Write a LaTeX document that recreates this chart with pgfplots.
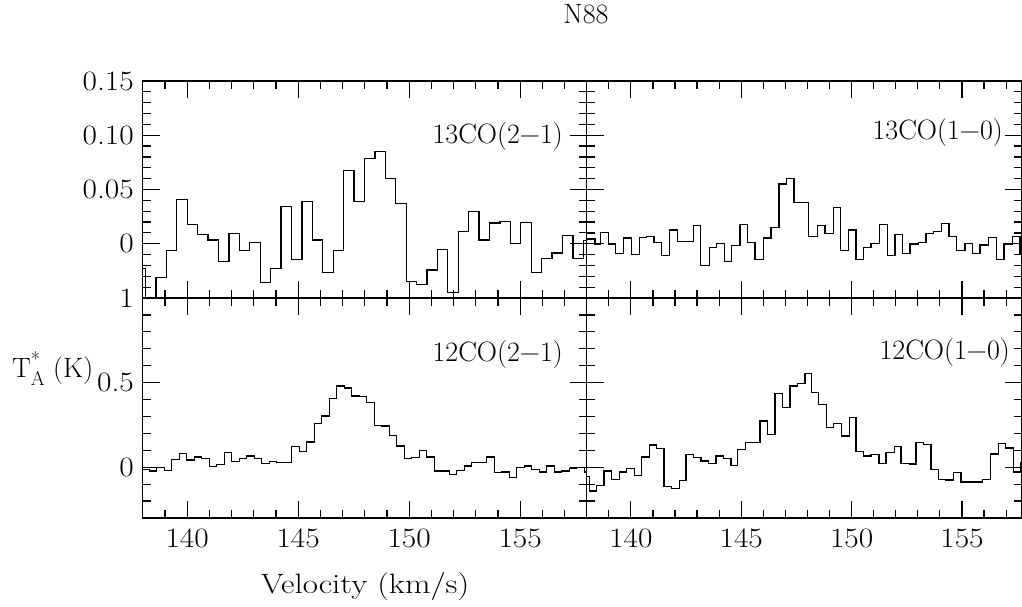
\documentclass[border=0pt]{standalone}
\usepackage{fontspec}
\usepackage{pgfplots}
\pgfplotsset{compat=1.18}

\newcommand{\bigf}{\fontsize{28}{32}\selectfont}

\pgfplotsset{
  panel/.style={
    scale only axis,
    xmin=138,
    tick align=inside,
    major tick length=17pt,
    minor tick length=8pt,
    xtick={140,145,150,155},
    minor xtick={138,139,...,158},
    axis line style={line width=1.4pt},
    every tick/.style={line width=1.2pt, black},
    tick label style={font=\bigf},
    /pgf/number format/assume math mode=true,
    xticklabel style={yshift=-7pt, xscale=1.12, transform shape},
    yticklabel style={xshift=-5pt, xscale=1.12, transform shape},
    clip=true,
  },
  spec/.style={const plot mark left, black, line width=1.3pt, mark=none},
  toppanel/.style={ymin=-0.05, ymax=0.15, height=217pt,
    ytick={0,0.05,0.1,0.15}, minor ytick={-0.05,-0.04,...,0.151}},
  botpanel/.style={ymin=-0.3, ymax=1.0, height=220pt,
    ytick={0,0.5,1}, minor ytick={-0.3,-0.2,...,1.01}},
}

\begin{document}
\begin{tikzpicture}
\path[use as bounding box] (0,0) rectangle (1022pt,606pt);

% ---------- 13CO(2-1) ----------
\begin{axis}[panel, toppanel, at={(142.7pt,308pt)}, anchor=south west,
  width=444pt, xmax=158,
  yticklabels={0,0.05,0.10,0.15}, xticklabels={}]
\addplot[spec] coordinates {
(137.660,-0.023) (138.130,-0.060) (138.599,-0.031) (139.069,-0.006)
(139.538,0.041) (140.008,0.0176) (140.477,0.0083) (140.947,0.0034)
(141.416,-0.0164) (141.886,0.0096) (142.355,-0.0065) (142.825,0.0012)
(143.294,-0.0358) (143.764,-0.0228) (144.233,0.0343) (144.703,-0.0142)
(145.172,0.0392) (145.642,0.0034) (146.111,-0.0265) (146.581,-0.0059)
(147.050,0.0676) (147.520,0.0389) (147.989,0.0784) (148.459,0.0852)
(148.928,0.0599) (149.398,0.0373) (149.867,-0.0349) (150.337,-0.0373)
(150.806,-0.0241) (151.276,-0.0056) (151.745,-0.0451) (152.215,0.0111)
(152.684,0.0296) (153.154,0.0034) (153.623,0.0191) (154.093,0.0204)
(154.562,0.0003) (155.032,0.0197) (155.501,-0.0265) (155.971,-0.0133)
(156.440,-0.0086) (156.910,0.0074) (157.379,-0.0133) (157.849,0.0028)
(158.318,0.0028)
};
\end{axis}

% ---------- 12CO(2-1) ----------
\begin{axis}[panel, botpanel, at={(142.7pt,88pt)}, anchor=south west,
  width=444pt, xmax=158,
  yticklabels={0,0.5,1}, xticklabels={140,145,150,155}]
\addplot[spec] coordinates {
(137.955,-0.013) (138.293,-0.023) (138.631,-0.003) (138.968,-0.019)
(139.306,0.046) (139.644,0.082) (139.982,0.042) (140.320,0.060)
(140.657,0.050) (140.995,0.003) (141.333,0.017) (141.671,0.089)
(142.009,0.033) (142.346,0.050) (142.684,0.066) (143.022,0.050)
(143.360,0.022) (143.698,0.034) (144.035,0.030) (144.373,0.030)
(144.711,0.121) (145.049,0.093) (145.387,0.149) (145.724,0.259)
(146.062,0.302) (146.400,0.407) (146.738,0.480) (147.076,0.468)
(147.413,0.421) (147.751,0.417) (148.089,0.382) (148.427,0.247)
(148.765,0.243) (149.102,0.188) (149.440,0.125) (149.778,0.050)
(150.116,0.056) (150.454,0.099) (150.791,0.060) (151.129,-0.023)
(151.467,-0.023) (151.805,-0.043) (152.143,-0.019) (152.480,0.007)
(152.818,0.027) (153.156,0.030) (153.494,0.060) (153.832,-0.033)
(154.169,-0.029) (154.507,-0.062) (154.845,-0.003) (155.183,0.007)
(155.521,-0.013) (155.858,-0.029) (156.196,0.007) (156.534,-0.029)
(156.872,-0.023) (157.210,-0.009) (157.547,-0.003) (157.885,-0.029)
(158.223,-0.029)
};
\end{axis}

% ---------- 13CO(1-0) ----------
\begin{axis}[panel, toppanel, at={(586.7pt,308pt)}, anchor=south west,
  width=435.3pt, xmax=157.72,
  yticklabels={}, xticklabels={}]
\addplot[spec] coordinates {
(137.700,0.0043) (138.376,-0.0003) (138.634,0.0105) (138.979,-0.0003)
(139.314,-0.0090) (139.658,0.0052) (140.039,-0.0102) (140.383,0.0059)
(140.719,0.0068) (141.049,0.0012) (141.398,-0.0111) (141.743,0.0127)
(142.105,0.0022) (142.830,0.0167) (143.165,-0.0198) (143.555,-0.0034)
(143.890,0.0003) (144.235,-0.0164) (144.570,-0.0019) (144.946,0.0176)
(145.295,0.0012) (145.626,-0.0142) (146.002,0.0052) (146.351,0.0151)
(146.713,0.0552) (147.062,0.0599) (147.393,0.0383) (148.041,0.0068)
(148.449,0.0167) (148.798,0.0096) (149.174,0.0336) (149.509,-0.0059)
(149.853,0.0127) (150.202,-0.0142) (150.533,-0.0034) (150.882,0.0003)
(151.258,0.0176) (151.620,-0.0111) (151.969,0.0083) (152.318,-0.0090)
(152.649,-0.0003) (153.025,0.0012) (153.374,0.0096) (153.704,0.0111)
(154.085,0.0188) (154.416,0.0065) (154.765,-0.0065) (155.141,0.0003)
(155.490,-0.0090) (155.820,-0.0012) (156.196,0.0059) (156.577,-0.0142)
(156.908,-0.0003) (157.284,0.0068) (157.633,-0.0090) (158.090,-0.0090)
};
\end{axis}

% ---------- 12CO(1-0) ----------
\begin{axis}[panel, botpanel, at={(586.7pt,88pt)}, anchor=south west,
  width=435.3pt, xmax=157.72,
  yticklabels={}, xticklabels={140,145,150,155}]
\addplot[spec] coordinates {
(137.700,-0.053) (138.118,-0.141) (138.453,-0.108) (138.784,-0.023)
(139.133,-0.072) (139.477,-0.029) (139.812,-0.007) (140.157,-0.047)
(140.492,0.060) (140.836,0.131) (141.172,0.109) (141.502,-0.112)
(141.851,-0.127) (142.196,-0.078) (142.499,0.076) (142.830,0.056)
(143.179,0.036) (143.510,0.022) (143.859,0.066) (144.189,0.050)
(144.538,0.011) (144.842,0.105) (145.204,0.145) (145.852,0.273)
(146.183,0.194) (146.532,0.437) (146.863,0.352) (147.212,0.480)
(147.542,0.496) (147.891,0.553) (148.195,0.441) (148.494,0.372)
(148.875,0.234) (149.174,0.259) (149.554,0.184) (149.899,0.293)
(150.202,0.092) (150.533,0.066) (150.882,0.076) (151.244,0.022)
(151.562,0.089) (151.938,0.121) (152.241,0.022) (152.617,0.020)
(152.921,0.145) (153.252,0.135) (153.601,-0.013) (153.931,-0.072)
(154.280,-0.076) (154.611,-0.033) (154.960,-0.088) (155.943,-0.074)
(156.305,0.079) (156.650,0.142) (156.985,0.114) (157.329,-0.029)
(157.665,0.027) (158.100,0.027)
};
\end{axis}

% ---------- texts ----------
\node[anchor=east, inner sep=0pt, font=\bigf] at (563pt,469pt) {13CO(2−1)};
\node[anchor=east, inner sep=0pt, font=\bigf] at (1003pt,473pt) {13CO(1−0)};
\node[anchor=east, inner sep=0pt, font=\bigf] at (563pt,251pt) {12CO(2−1)};
\node[anchor=east, inner sep=0pt, font=\bigf] at (1010pt,253pt) {12CO(1−0)};
\node[anchor=base, inner sep=0pt, font=\bigf] at (586pt,582pt) {N88};
\node[anchor=base west, inner sep=0pt, font=\bigf] at (12pt,229pt)
  {T\rlap{\raisebox{11pt}{\fontsize{20}{20}\selectfont *}}\raisebox{-8pt}{\fontsize{20}{20}\selectfont A} (K)};
\node[anchor=base, inner sep=0pt, font=\bigf, xscale=1.18, transform shape] at (365pt,13pt) {Velocity (km/s)};
\end{tikzpicture}
\end{document}
